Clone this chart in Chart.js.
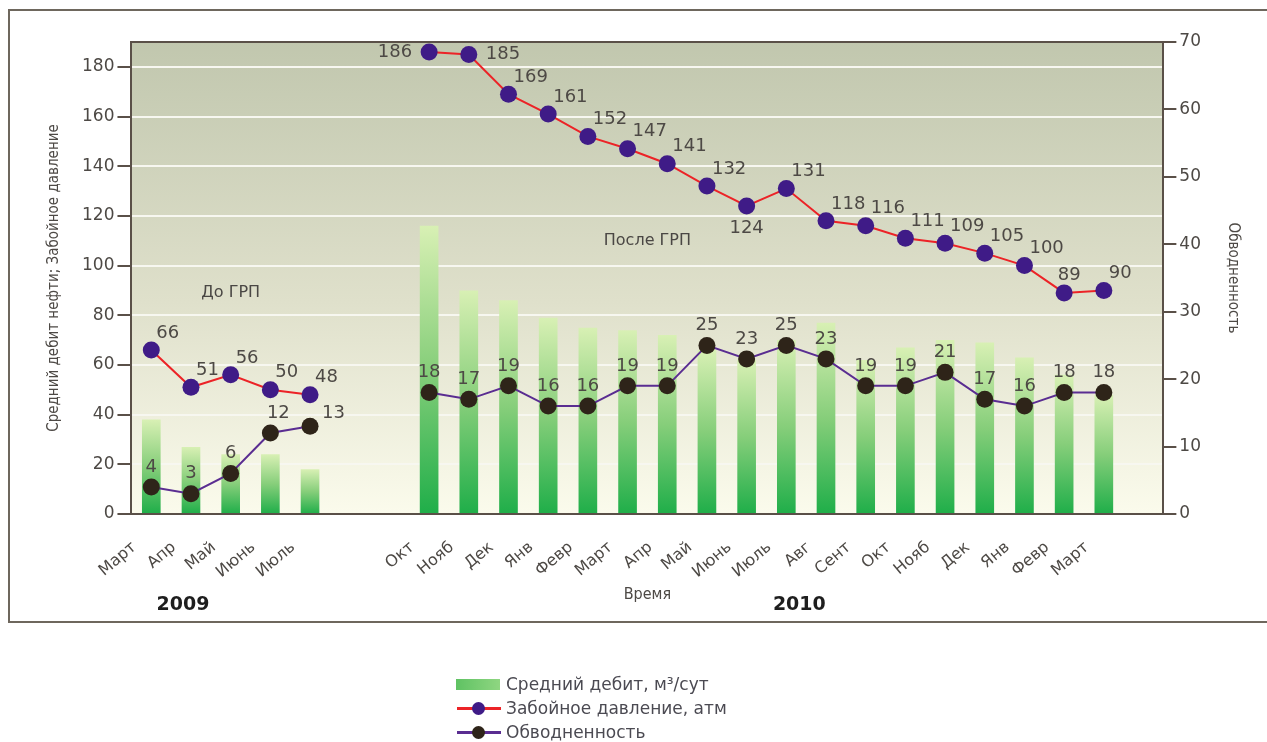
<!DOCTYPE html>
<html lang="ru">
<head>
<meta charset="utf-8">
<title>Средний дебит, забойное давление и обводненность</title>
<script src="https://cdn.jsdelivr.net/npm/chart.js@4.4.1/dist/chart.umd.min.js"></script>
<style>
    body { margin: 0; background: #fff; }
    #wrap { position: relative; width: 1267px; height: 742px; overflow: hidden; }
    #frame { position: absolute; left: 8px; top: 9px; width: 1275px; height: 614px; border: 2px solid #6e675d; box-sizing: border-box; }
    #box { position: absolute; left: 0; top: 0; width: 1267px; height: 742px; }
    #legend { position: absolute; left: 455px; top: 672px; font: 17px 'DejaVu Sans', sans-serif; color: #4b4a52; }
    .row { height: 24px; display: flex; align-items: center; }
    .mark { position: relative; width: 46px; height: 20px; margin-right: 5px; }
    .swatch { position: absolute; left: 1px; top: 5px; width: 44px; height: 11px; background: linear-gradient(to right, #5fc263, #8fd681); }
    .line { position: absolute; left: 2px; top: 9px; width: 44px; height: 3px; }
    .dot { position: absolute; left: 17px; top: 4px; width: 13px; height: 13px; border-radius: 50%; }
</style>
</head>
<body>
<div id="wrap">
    <div id="frame"></div>
    <div id="box"><canvas id="chart"></canvas></div>
    <div id="legend"></div>
</div>
<script>
// months, 2009 (Mar-Jul), two empty slots, 2010 (Oct..Mar), one empty slot
const months = ['Март', 'Апр', 'Май', 'Июнь', 'Июль', '', '', 'Окт', 'Нояб', 'Дек', 'Янв', 'Февр', 'Март',
    'Апр', 'Май', 'Июнь', 'Июль', 'Авг', 'Сент', 'Окт', 'Нояб', 'Дек', 'Янв', 'Февр', 'Март', ''];
const avgRate = [38, 27, 24, 24, 18, null, null, 116, 90, 86, 79, 75, 74, 72, 66, 62, 70, 77, 62, 67, 70, 69, 63, 56, 48, null];
const pressure = [66, 51, 56, 50, 48, null, null, 186, 185, 169, 161, 152, 147, 141, 132, 124, 131, 118, 116, 111, 109, 105, 100, 89, 90, null];
const waterCut = [4, 3, 6, 12, 13, null, null, 18, 17, 19, 16, 16, 19, 19, 25, 23, 25, 23, 19, 19, 21, 17, 16, 18, 18, null];
const leftTicks = { min: 0, max: 190, step: 20 };
const rightTicks = { min: 0, max: 70, step: 10 };

const seriesNames = ['Средний дебит, м³/сут', 'Забойное давление, атм', 'Обводненность'];

const textColor = '#4d4945';
const axisColor = '#5a5048';
const numFont = "'DejaVu Sans', sans-serif";
const narrowFont = "'Liberation Sans Narrow', 'DejaVu Sans Condensed', 'Roboto Condensed', 'DejaVu Sans', sans-serif";

function barGradient(ctx) {
    const chart = ctx.chart;
    const area = chart.chartArea;
    if (!area || ctx.type !== 'data' || ctx.raw == null) return '#5cc262';
    const top = chart.scales.y.getPixelForValue(ctx.raw);
    const g = chart.ctx.createLinearGradient(0, top, 0, area.bottom);
    g.addColorStop(0, '#d8f0b4');
    g.addColorStop(0.5, '#86ce7a');
    g.addColorStop(1, '#1fae49');
    return g;
}

// plot background + top border
const plotFrame = {
    id: 'plotFrame',
    beforeDraw(chart) {
        const { ctx, chartArea: a } = chart;
        const g = ctx.createLinearGradient(0, a.top, 0, a.bottom);
        g.addColorStop(0, '#c1c7ae');
        g.addColorStop(0.55, '#dfe0cb');
        g.addColorStop(1, '#fbfbec');
        ctx.save();
        ctx.fillStyle = g;
        ctx.fillRect(a.left, a.top, a.right - a.left, a.bottom - a.top);
        ctx.restore();
    },
    beforeDatasetsDraw(chart) {
        const { ctx, chartArea: a } = chart;
        ctx.save();
        ctx.strokeStyle = axisColor;
        ctx.lineWidth = 2;
        ctx.beginPath();
        ctx.moveTo(a.left, a.top);
        ctx.lineTo(a.right, a.top);
        ctx.stroke();
        ctx.restore();
    },
};

// value labels and notes
const valueLabels = {
    id: 'valueLabels',
    afterDatasetsDraw(chart) {
        const { ctx, scales } = chart;
        ctx.save();
        ctx.font = '18px ' + numFont;
        ctx.fillStyle = textColor;
        ctx.textBaseline = 'middle';

        const pMeta = chart.getDatasetMeta(1);
        pMeta.data.forEach((pt, i) => {
            const v = pressure[i];
            if (v == null) return;
            let x = pt.x + 5, y = pt.y - 17, align = 'left';
            if (i === 7) { x = pt.x - 17; y = pt.y; align = 'right'; }
            else if (i === 8) { x = pt.x + 17; y = pt.y; }
            else if (i === 15) { x = pt.x; y = pt.y + 22; align = 'center'; }
            else if (i === 23) { x = pt.x + 5; y = pt.y - 18; align = 'center'; }
            ctx.textAlign = align;
            ctx.fillText(String(v), x, y);
        });

        const wMeta = chart.getDatasetMeta(2);
        wMeta.data.forEach((pt, i) => {
            const v = waterCut[i];
            if (v == null) return;
            if (i === 4) {
                ctx.textAlign = 'left';
                ctx.fillText(String(v), pt.x + 12, pt.y - 13);
            } else {
                ctx.textAlign = 'center';
                ctx.fillText(String(v), pt.x + (i === 3 ? 8 : 0), pt.y - 20);
            }
        });

        const x = scales.x, y = scales.y;
        ctx.textAlign = 'center';
        ctx.font = '16px ' + numFont;
        ctx.fillStyle = '#4a4744';
        ctx.fillText('До ГРП', x.getPixelForValue(2), y.getPixelForValue(89));
        ctx.fillText('После ГРП', x.getPixelForValue(12.5), y.getPixelForValue(110));

        ctx.font = 'bold 19px ' + numFont;
        ctx.fillStyle = '#1e1e1e';
        const yearY = chart.chartArea.bottom + 91;
        ctx.fillText('2009', x.getPixelForValue(1) - 8, yearY);
        ctx.fillText('2010', x.getPixelForValue(16) + 13, yearY);
        ctx.restore();
    },
};

new Chart(document.getElementById('chart'), {
    data: {
        labels: months,
        datasets: [
            {
                type: 'bar',
                label: seriesNames[0],
                data: avgRate,
                yAxisID: 'y',
                backgroundColor: barGradient,
                barPercentage: 0.47,
                categoryPercentage: 1,
                order: 3,
            },
            {
                type: 'line',
                label: seriesNames[1],
                data: pressure,
                yAxisID: 'y',
                borderColor: '#ec2327',
                borderWidth: 2,
                pointRadius: 8.5,
                pointHoverRadius: 8.5,
                pointBackgroundColor: '#3f1b87',
                pointBorderColor: '#3f1b87',
                pointBorderWidth: 0,
                spanGaps: false,
                tension: 0,
                order: 1,
            },
            {
                type: 'line',
                label: seriesNames[2],
                data: waterCut,
                yAxisID: 'y1',
                borderColor: '#5a2d91',
                borderWidth: 2,
                pointRadius: 8.5,
                pointHoverRadius: 8.5,
                pointBackgroundColor: '#2e2419',
                pointBorderColor: '#2e2419',
                pointBorderWidth: 0,
                spanGaps: false,
                tension: 0,
                order: 2,
            },
        ],
    },
    options: {
        responsive: true,
        maintainAspectRatio: false,
        animation: false,
        layout: { padding: { left: 40, right: 20, top: 42, bottom: 138 } },
        plugins: {
            legend: { display: false },
            tooltip: { enabled: false },
        },
        scales: {
            x: {
                type: 'category',
                offset: true,
                grid: { display: false, drawTicks: false },
                border: { display: true, color: axisColor, width: 2 },
                ticks: {
                    autoSkip: false,
                    minRotation: 40,
                    maxRotation: 40,
                    padding: 24,
                    labelOffset: -17,
                    color: textColor,
                    font: { family: numFont, size: 16 },
                },
                title: {
                    display: true,
                    text: 'Время',
                    color: textColor,
                    font: { family: narrowFont, size: 16 },
                    padding: { top: -21, bottom: 0 },
                },
            },
            y: {
                position: 'left',
                min: leftTicks.min,
                max: leftTicks.max,
                grid: { color: '#f7f7f0', lineWidth: 2, tickColor: axisColor, tickLength: 14, drawTicks: true },
                border: { display: true, color: axisColor, width: 2 },
                ticks: {
                    stepSize: leftTicks.step,
                    includeBounds: false,
                    padding: 3,
                    color: textColor,
                    font: { family: numFont, size: 17 },
                },
                title: {
                    display: true,
                    text: 'Средний дебит нефти; Забойное давление',
                    color: textColor,
                    font: { family: narrowFont, size: 15 },
                    padding: { top: 5, bottom: 16 },
                },
            },
            y1: {
                position: 'right',
                min: rightTicks.min,
                max: rightTicks.max,
                grid: { drawOnChartArea: false, tickColor: axisColor, tickLength: 13, lineWidth: 2 },
                border: { display: true, color: axisColor, width: 2 },
                ticks: {
                    stepSize: rightTicks.step,
                    padding: 3,
                    color: textColor,
                    font: { family: numFont, size: 17 },
                },
                title: {
                    display: true,
                    text: 'Обводненность',
                    color: textColor,
                    font: { family: narrowFont, size: 15 },
                    padding: { top: 5, bottom: 20 },
                },
            },
        },
    },
    plugins: [plotFrame, valueLabels],
});

// legend (vertical list under the frame)
const legendEl = document.getElementById('legend');
const legendMarks = [
    '<div class="swatch"></div>',
    '<div class="line" style="background:#ec2327"></div><div class="dot" style="background:#3f1b87"></div>',
    '<div class="line" style="background:#5a2d91"></div><div class="dot" style="background:#2e2419"></div>',
];
seriesNames.forEach((name, i) => {
    const row = document.createElement('div');
    row.className = 'row';
    row.innerHTML = '<div class="mark">' + legendMarks[i] + '</div><span>' + name + '</span>';
    legendEl.appendChild(row);
});
</script>
</body>
</html>
